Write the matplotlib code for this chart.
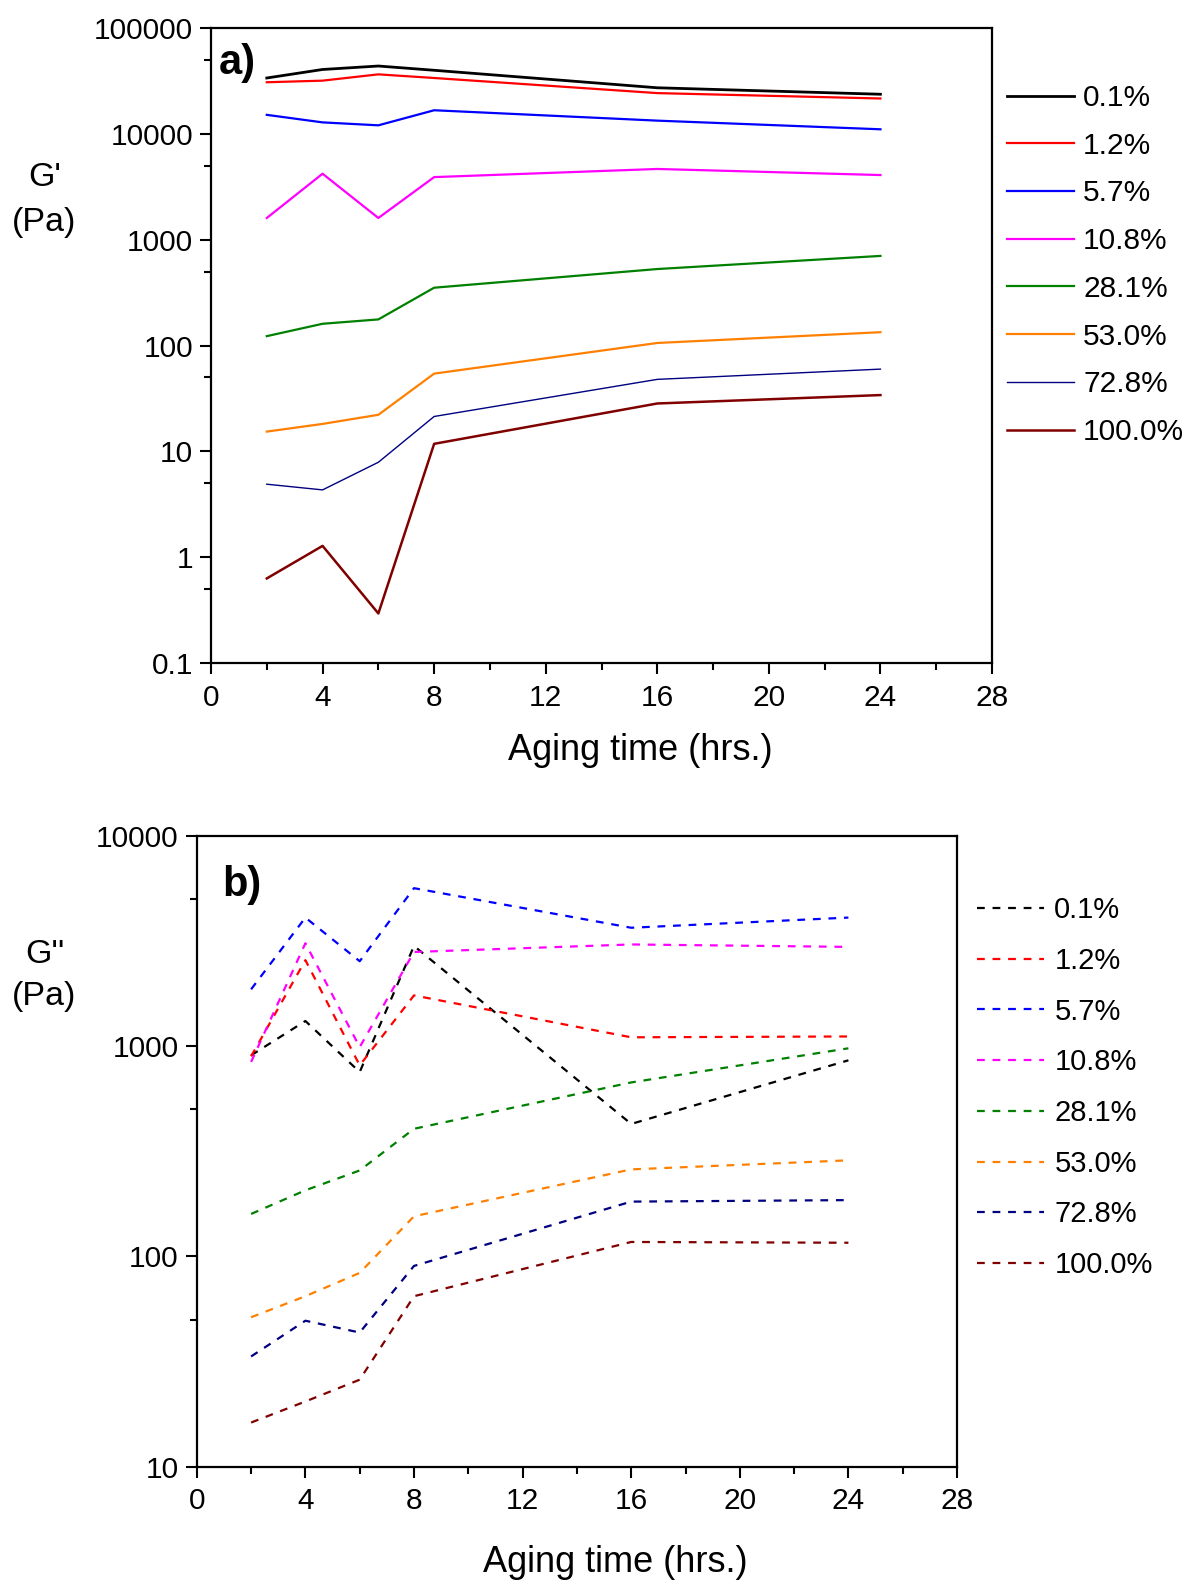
import matplotlib
matplotlib.use("Agg")
import matplotlib.pyplot as plt
from matplotlib.ticker import FixedLocator, NullFormatter

plt.rcParams['font.family'] = ['Liberation Sans', 'DejaVu Sans']

# aging time (hrs.)
hours = [2, 4, 6, 8, 16, 24]
labels = ['0.1%', '1.2%', '5.7%', '10.8%', '28.1%', '53.0%', '72.8%', '100.0%']
colors = ['#000000', '#FF0000', '#0000FF', '#FF00FF', '#008000', '#FF8000', '#000080', '#800000']
widths = [2.0, 1.6, 1.6, 1.6, 1.6, 1.6, 1.0, 1.8]

# G' (Pa), panel a
g1_01 = [33900, 40800, 44000, 40100, 27400, 23800]
g1_12 = [30900, 32000, 36700, 33900, 24400, 21700]
g1_57 = [15200, 12900, 12100, 16800, 13400, 11100]
g1_108 = [1610, 4220, 1610, 3920, 4680, 4100]
g1_281 = [123, 161, 177, 353, 530, 705]
g1_530 = [15.4, 18.2, 22.2, 54.4, 106, 134]
g1_728 = [4.9, 4.33, 7.9, 21.4, 48, 60]
g1_1000 = [0.63, 1.28, 0.294, 11.8, 28.4, 34.1]

# G'' (Pa), panel b
g2_01 = [903, 1315, 752, 2990, 426, 855]
g2_12 = [893, 2560, 809, 1740, 1100, 1110]
g2_57 = [1860, 4080, 2530, 5630, 3650, 4080]
g2_108 = [840, 3080, 988, 2800, 3040, 2960]
g2_281 = [159, 206, 256, 404, 671, 975]
g2_530 = [51.3, 64.6, 83.4, 155, 259, 286]
g2_728 = [33.4, 49.4, 43.4, 90, 182, 185]
g2_1000 = [16.2, 20.4, 25.9, 64.6, 117, 116]

g1 = [g1_01, g1_12, g1_57, g1_108, g1_281, g1_530, g1_728, g1_1000]
g2 = [g2_01, g2_12, g2_57, g2_108, g2_281, g2_530, g2_728, g2_1000]

W, H = 1189, 1583
fig = plt.figure(figsize=(W / 100, H / 100), dpi=100)


def frac_axes(left, top, right, bottom):
    return fig.add_axes([left / W, 1 - bottom / H, (right - left) / W, (bottom - top) / H])


def style_axes(ax, yticks, ylabels):
    ax.set_yscale('log')
    ax.set_xlim(0, 28)
    ax.set_ylim(yticks[0], yticks[-1])
    ax.xaxis.set_major_locator(FixedLocator(range(0, 29, 4)))
    ax.xaxis.set_minor_locator(FixedLocator(range(2, 28, 4)))
    ax.yaxis.set_major_locator(FixedLocator(yticks))
    ax.yaxis.set_minor_locator(FixedLocator([5 * t for t in yticks[:-1]]))
    ax.yaxis.set_minor_formatter(NullFormatter())
    ax.set_yticklabels(ylabels)
    ax.tick_params(which='both', direction='out', top=False, right=False,
                   width=1.5, labelsize=21.5, pad=5)
    ax.tick_params(axis='x', which='major', pad=7)
    ax.tick_params(which='major', length=8)
    ax.tick_params(which='minor', length=5)
    for sp in ax.spines.values():
        sp.set_linewidth(1.6)


# panel a
ax1 = frac_axes(211, 28.3, 992, 663)
for vals, lab, c, lw in zip(g1, labels, colors, widths):
    ax1.plot(hours, vals, color=c, lw=lw, label=lab)
style_axes(ax1, [0.1, 1, 10, 100, 1000, 10000, 100000],
           ['0.1', '1', '10', '100', '1000', '10000', '100000'])
ax1.text(0.01, 0.946, 'a)', transform=ax1.transAxes, fontsize=30,
         fontweight='bold', va='center', ha='left')
ax1.set_xlabel('Aging time (hrs.)', fontsize=26)
ax1.xaxis.set_label_coords(0.55, -0.11)
fig.text(45 / W, 1 - 177 / H, "G'", fontsize=24.5, ha='center', va='center')
fig.text(44 / W, 1 - 222 / H, '(Pa)', fontsize=24.5, ha='center', va='center')
ax1.legend(loc='upper left', bbox_to_anchor=(1007 / W, 1 - 84 / H),
           bbox_transform=fig.transFigure, frameon=False, fontsize=21.5,
           handlelength=2.25, handletextpad=0.3, labelspacing=0.66,
           borderpad=0, borderaxespad=0)

# panel b
ax2 = frac_axes(196.8, 835.7, 957, 1466.6)
for vals, lab, c, lw in zip(g2, labels, colors, widths):
    ax2.plot(hours, vals, color=c, lw=1.6, ls=(0, (3.5, 3.5)), label=lab)
style_axes(ax2, [10, 100, 1000, 10000], ['10', '100', '1000', '10000'])
ax2.text(0.033, 0.922, 'b)', transform=ax2.transAxes, fontsize=30,
         fontweight='bold', va='center', ha='left')
ax2.set_xlabel('Aging time (hrs.)', fontsize=26)
ax2.xaxis.set_label_coords(0.551, -0.124)
fig.text(45 / W, 1 - 955 / H, "G''", fontsize=24.5, ha='center', va='center')
fig.text(44 / W, 1 - 996 / H, '(Pa)', fontsize=24.5, ha='center', va='center')
ax2.legend(loc='upper left', bbox_to_anchor=(977 / W, 1 - 896 / H),
           bbox_transform=fig.transFigure, frameon=False, fontsize=21,
           handlelength=2.3, handletextpad=0.35, labelspacing=0.78,
           borderpad=0, borderaxespad=0)

fig.savefig('out.png', dpi=100)
